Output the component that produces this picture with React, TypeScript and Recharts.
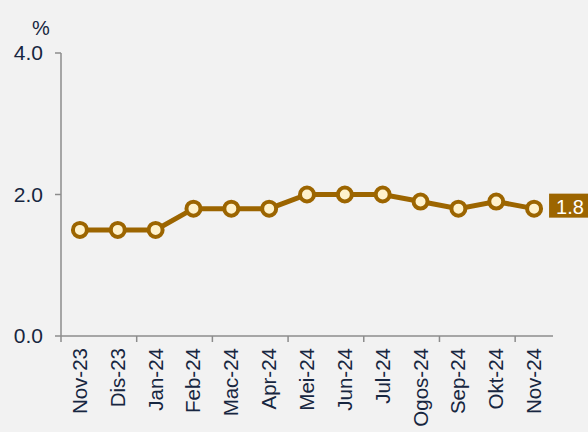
import React from "react";
import { LabelList, Line, LineChart, XAxis, YAxis } from "recharts";

const months = [
  "Nov-23", "Dis-23", "Jan-24", "Feb-24", "Mac-24", "Apr-24", "Mei-24",
  "Jun-24", "Jul-24", "Ogos-24", "Sep-24", "Okt-24", "Nov-24",
];
const rates = [1.5, 1.5, 1.5, 1.8, 1.8, 1.8, 2.0, 2.0, 2.0, 1.9, 1.8, 1.9, 1.8];
const yTicks = [0, 2, 4];

const data = months.map((m, i) => ({ month: m, rate: rates[i] }));

const brown = "#9C6500";
const axisColor = "#8c8c8c";
const textColor = "#172640";
const font = "'Liberation Sans', Arial, sans-serif";

function MonthTick({ x, y, payload, index, width, visibleTicksCount }: any) {
  const step = width / visibleTicksCount;
  return (
    <g>
      {index % 2 === 0 ? (
        <line x1={x - step / 2} x2={x - step / 2} y1={y - 8} y2={y - 2} stroke={axisColor} strokeWidth={1.5} />
      ) : null}
      <text
        x={0}
        y={0}
        transform={`translate(${x + 7},${y + 4}) rotate(-90)`}
        textAnchor="end"
        fontSize={20.5}
        fill={textColor}
        fontFamily={font}
      >
        {payload.value}
      </text>
    </g>
  );
}

function ValueTick({ x, y, payload }: any) {
  return (
    <text x={x} y={y + 7} textAnchor="end" fontSize={21} fill={textColor} fontFamily={font}>
      {Number(payload.value).toFixed(1)}
    </text>
  );
}

function UnitLabel({ viewBox }: any) {
  return (
    <text x={viewBox.x + 41} y={viewBox.y - 25} textAnchor="middle" dominantBaseline="central" fontSize={20} fill={textColor} fontFamily={font}>
      %
    </text>
  );
}

function EndLabel({ x, y, value, index }: any) {
  if (index !== rates.length - 1) return null;
  return (
    <g>
      <rect x={x + 15} y={y - 15} width={40} height={24} fill={brown} />
      <text x={x + 22} y={y + 5} fontSize={20} fill="#ffffff" fontFamily={font}>
        {Number(value).toFixed(1)}
      </text>
    </g>
  );
}

export default function App() {
  return (
    <div style={{ position: "absolute", left: 0, top: 0, width: 588, height: 432, background: "#f2f2f2" }}>
      <LineChart width={588} height={432} data={data} margin={{ top: 53, right: 35, left: 0, bottom: 0 }}>
        <XAxis
          dataKey="month"
          scale="band"
          interval={0}
          height={96}
          tickLine={false}
          axisLine={{ stroke: axisColor, strokeWidth: 1.5 }}
          tick={<MonthTick />}
        />
        <YAxis
          domain={[0, 4]}
          ticks={yTicks}
          width={61}
          tickSize={6}
          tickMargin={12}
          axisLine={{ stroke: axisColor, strokeWidth: 1.5 }}
          tickLine={{ stroke: axisColor, strokeWidth: 1.5 }}
          tick={<ValueTick />}
          label={<UnitLabel />}
        />
        <Line
          type="linear"
          dataKey="rate"
          stroke={brown}
          strokeWidth={5}
          dot={{ r: 7, fill: "#FFF2CC", stroke: brown, strokeWidth: 4 }}
          isAnimationActive={false}
        >
          <LabelList dataKey="rate" content={<EndLabel />} />
        </Line>
      </LineChart>
    </div>
  );
}
